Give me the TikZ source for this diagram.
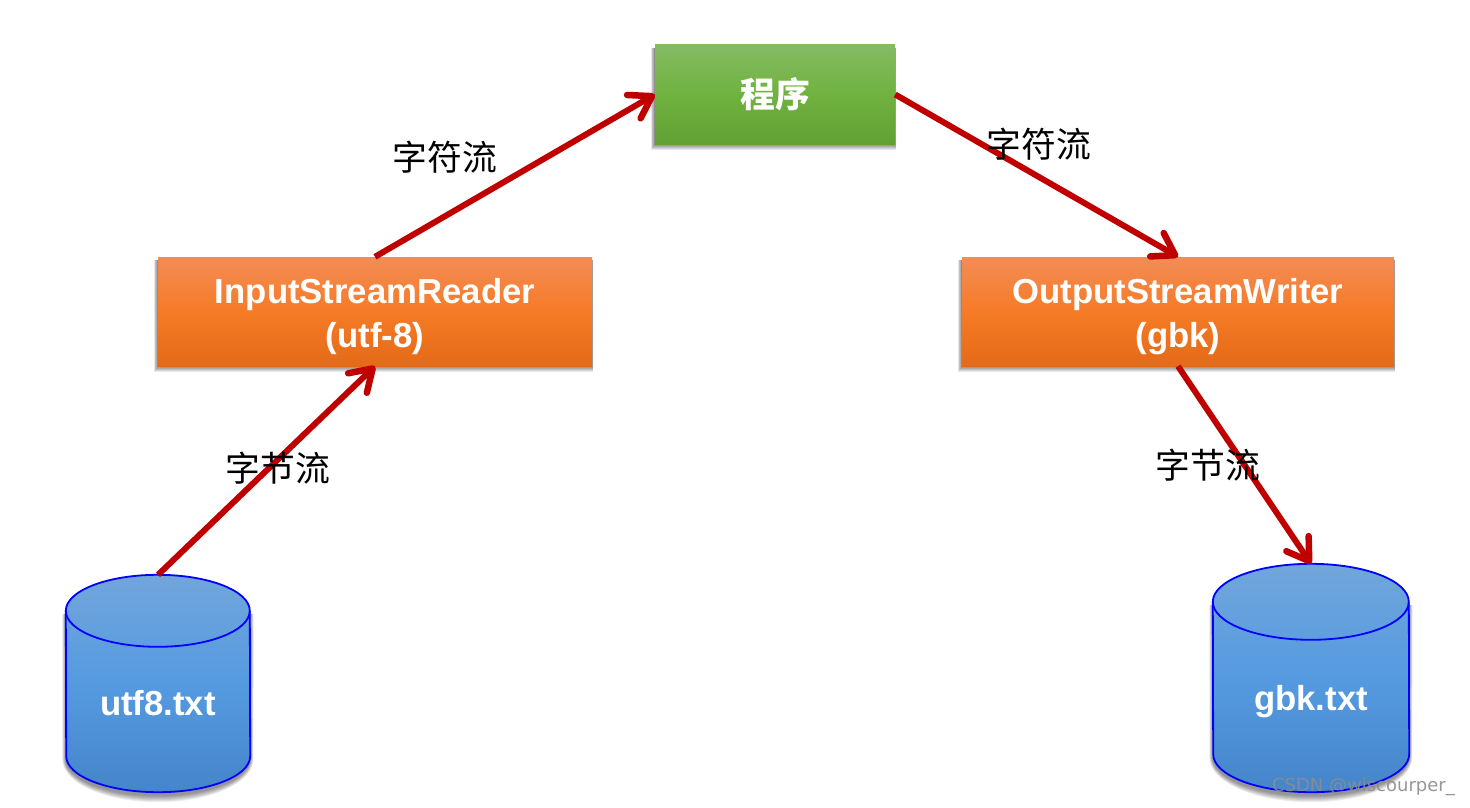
\documentclass[tikz,border=0pt]{standalone}
\usepackage{fontspec}
\setmainfont{Liberation Sans}
\newfontfamily\cjk{Noto Sans CJK SC}
\newfontfamily\markfont{DejaVu Sans}
\usetikzlibrary{arrows.meta,backgrounds,calc}
\definecolor{arrowred}{HTML}{C00000}
\definecolor{gTop}{HTML}{84BB63}
\definecolor{gMid}{HTML}{70B23F}
\definecolor{gBot}{HTML}{61A035}
\definecolor{oTop}{HTML}{F38C56}
\definecolor{oMid}{HTML}{F67B27}
\definecolor{oBot}{HTML}{E56A17}
\definecolor{bTop}{HTML}{72A6DB}
\definecolor{bMid}{HTML}{559AE0}
\definecolor{bBot}{HTML}{4585CA}
\tikzset{
  x=1pt,y=-1pt,
  boxbase/.style={rectangle,inner sep=0pt,text=white,align=center,font=\fontsize{34.7}{44}\selectfont\bfseries},
  greenbox/.style={boxbase,top color=gTop,bottom color=gBot,middle color=gMid},
  orangebox/.style={boxbase,top color=oTop,bottom color=oBot,middle color=oMid},
  cylbox/.style={rectangle,inner sep=0pt},
  cyltext/.style={text=white,font=\fontsize{34.7}{42}\selectfont\bfseries,inner sep=0pt},
  flow/.style={draw=arrowred,line width=6pt,-{Straight Barb[length=21pt,width=27pt,line width=6.5pt,round]},shorten >=0pt},
  flowlabel/.style={font=\fontsize{34.8}{40}\selectfont\cjk,text=black,inner sep=0pt},
}
\newcommand{\boxshadow}[1]{%
  \foreach \g in {6,5,4,3,2,1,0}{%
    \fill[black,opacity=.09] ($(#1.north west)+(-\g*.6,3)$) rectangle ($(#1.south east)+(\g*.2,\g)$);
  }}
\newcommand{\cylbody}[3]{% node, rx, ry
  \path
    coordinate (c1) at ($(#1.north west)+(0,#3)$)
    coordinate (c2) at ($(#1.north east)+(0,#3)$)
    coordinate (c3) at ($(#1.south east)+(0,-#3)$)
    coordinate (c4) at ($(#1.south west)+(0,-#3)$);
  \begin{scope}[on background layer]
  \foreach \g in {7,6,5,4,3,2,1}{%
    \fill[black,opacity=.07] ($(c1)+(-\g*.5,3)$) -- ($(c4)+(-\g*.5,3)$)
      arc[start angle=180,end angle=0,x radius=#2+\g*.5,y radius=#3+\g] -- ($(c2)+(\g*.5,3)$) -- cycle;
  }
  \end{scope}
  \path[top color=bTop,bottom color=bBot,middle color=bMid]
    (c1) arc[start angle=180,end angle=360,x radius=#2,y radius=#3]
    -- (c3) arc[start angle=0,end angle=180,x radius=#2,y radius=#3] -- cycle;
  \draw[blue,line width=1.8pt,line join=round]
    (c1) arc[start angle=180,end angle=360,x radius=#2,y radius=#3]
    -- (c3) arc[start angle=0,end angle=180,x radius=#2,y radius=#3] -- cycle;
  \draw[blue,line width=1.8pt] (c1) arc[start angle=180,end angle=0,x radius=#2,y radius=#3];
}
\begin{document}
\begin{tikzpicture}
\useasboundingbox (0,0) rectangle (1470,808);
\begin{scope}[on background layer]
  \fill[white] (0,0) rectangle (1470,808);
\end{scope}
% boxes
\node[greenbox,minimum width=240pt,minimum height=99pt] (prog) at (775,94.5) {\cjk\bfseries 程序};
\node[orangebox,minimum width=434pt,minimum height=109pt] (reader) at (375,311.5) {\rule{0pt}{35pt}InputStreamReader\\(utf-8)};
\node[orangebox,minimum width=432pt,minimum height=109pt] (writer) at (1178,311.5) {\rule{0pt}{35pt}OutputStreamWriter\\(gbk)};
\begin{scope}[on background layer]
  \boxshadow{prog}\boxshadow{reader}\boxshadow{writer}
\end{scope}
% cylinders
\node[cylbox,minimum width=184pt,minimum height=217pt] (utf8) at (158,683.5) {};
\node[cylbox,minimum width=196pt,minimum height=228pt] (gbk) at (1311,678) {};
\cylbody{utf8}{92}{36}
\cylbody{gbk}{98}{38}
\node[cyltext] (utf8label) at (158,703) {utf8.txt};
\node[cyltext] (gbklabel) at (1311,702) {gbk.txt};
% connectors
\draw[flow] (utf8.north) -- (reader.south);
\draw[flow] (reader.north) -- (prog.west);
\draw[flow] (prog.east) -- (writer.north);
\draw[flow] (writer.south) -- (gbk.north);
% labels
\node[flowlabel] (l1) at (445,157) {字符流};
\node[flowlabel] (l2) at (1039,144) {字符流};
\node[flowlabel] (l3) at (278,468) {字节流};
\node[flowlabel] (l4) at (1208,465) {字节流};
\node[inner sep=0pt,anchor=east,text=gray!90,opacity=.9,font=\fontsize{18}{22}\selectfont\markfont] (mark) at (1455,787) {CSDN @wiscourper\_};
\end{tikzpicture}
\end{document}
